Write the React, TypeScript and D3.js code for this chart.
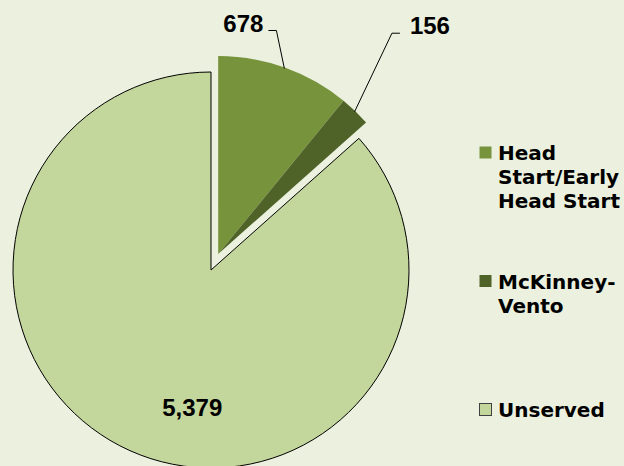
import * as d3 from "d3";

const categories = ["Head Start/Early Head Start", "McKinney-Vento", "Unserved"];
const values = [678, 156, 5379];
const valueLabels = ["678", "156", "5,379"];
const legendLines = [["Head", "Start/Early", "Head Start"], ["McKinney-", "Vento"], ["Unserved"]];
const colors = ["#77933C", "#4F6228", "#C3D69B"];

const W = 624;
const H = 466;
const cx = 211;
const cy = 270;
const R = 198;
const explode = 17.5;

const polar = (a: number, r: number): [number, number] => [Math.sin(a) * r, -Math.cos(a) * r];
const deg = (d: number) => (d * Math.PI) / 180;

export default function App() {
  const pie = d3
    .pie<number>()
    .sort(null)
    .value((d) => d);
  const slices = pie(values);
  const arc = d3.arc<d3.PieArcDatum<number>>().innerRadius(0).outerRadius(R);

  // the two served slices are pulled out together
  const exAngle = (slices[0].startAngle + slices[1].endAngle) / 2;
  const [ox, oy] = polar(exAngle, explode);

  const legendY = d3.scalePoint<string>().domain(categories).range([160, 417]);

  const labelFont = { fontFamily: "'Liberation Sans', Arial, sans-serif", fontWeight: 700, fontSize: 24 };
  const legendFont = { fontFamily: "'DejaVu Sans', sans-serif", fontWeight: 700, fontSize: 20 };

  // leader elbows for the small slices (angle from top, radius from exploded centre)
  const elbows = [
    { a: deg(14.6), r: 231, dir: -1, gap: 5 },
    { a: deg(38.2), r: 281, dir: 1, gap: 10 },
  ];

  const unserved = slices[2];
  const [ux, uy] = polar(deg(187.8), R * 0.7);

  return (
    <svg width={W} height={H} style={{ position: "fixed", left: 0, top: 0 }}>
      <rect width={W} height={H} fill="#EBF1DE" />

      <g transform={`translate(${cx},${cy})`}>
        <path d={arc(unserved) || ""} fill={colors[2]} stroke="#000" strokeWidth={1} />
        <text x={ux} y={uy + 9} textAnchor="middle" {...labelFont}>
          {valueLabels[2]}
        </text>
      </g>

      <g transform={`translate(${cx + ox},${cy + oy})`}>
        {slices.slice(0, 2).map((s, i) => {
          const mid = (s.startAngle + s.endAngle) / 2;
          const [px, py] = polar(mid, R - 1);
          const [ex, ey] = polar(elbows[i].a, elbows[i].r);
          const tail = ex + elbows[i].dir * 8;
          return (
            <g key={categories[i]}>
              <path d={arc(s) || ""} fill={colors[i]} />
              <polyline
                points={`${px},${py} ${ex},${ey} ${tail},${ey}`}
                fill="none"
                stroke="#000"
                strokeWidth={1}
              />
              <text
                x={tail + elbows[i].dir * elbows[i].gap}
                y={ey + 1}
                textAnchor={elbows[i].dir < 0 ? "end" : "start"}
                {...labelFont}
              >
                {valueLabels[i]}
              </text>
            </g>
          );
        })}
      </g>

      <g>
        {categories.map((c, i) => {
          const y0 = legendY(c) || 0;
          return (
            <g key={c}>
              <rect
                x={479.5}
                y={y0 - 13.5}
                width={12}
                height={12}
                fill={colors[i]}
                stroke={i === 2 ? "#404040" : "none"}
                strokeWidth={1}
              />
              <text x={498} y={y0} {...legendFont}>
                {legendLines[i].map((line, j) => (
                  <tspan key={line} x={498} y={y0 + j * 24}>
                    {line}
                  </tspan>
                ))}
              </text>
            </g>
          );
        })}
      </g>
    </svg>
  );
}
